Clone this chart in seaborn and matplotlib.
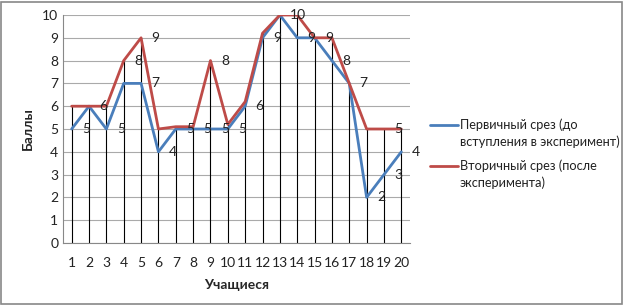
import matplotlib
matplotlib.use('Agg')
import matplotlib.pyplot as plt
import numpy as np
import pandas as pd
import seaborn as sns
from matplotlib.patches import Rectangle

# students and scores
students = list(range(1, 21))
first_cut = [5, 6, 5, 7, 7, 4, 5, 5, 5, 5, 6, 9, 10, 9, 9, 8, 7, 2, 3, 4]
second_cut = [6, 6, 6, 8, 9, 5, 5.1, 5.1, 8, 5.2, 6.2, 9.2, 10, 10, 9, 9, 7, 5, 5, 5]
series_names = ['Первичный срез (до\nвступления в эксперимент)',
                'Вторичный срез (после\nэксперимента)']
colors = ['#4A7EBB', '#BE4B48']

# which points carry a value label in the original
first_labels = [1, 2, 3, 5, 6, 7, 8, 9, 10, 11, 12, 14, 16, 17, 18, 19, 20]
second_labels = [4, 5, 9, 13, 15, 19]

df = pd.DataFrame({
    'Учащиеся': students * 2,
    'Баллы': first_cut + second_cut,
    'series': [series_names[0]] * 20 + [series_names[1]] * 20,
})

sns.set_style('white')
plt.rcParams['font.family'] = ['Lato', 'DejaVu Sans']

W, H = 627, 307
fig = plt.figure(figsize=(W / 100, H / 100), dpi=100)
ax = fig.add_axes([63 / W, 1 - 243 / H, (410 - 63) / W, (243 - 15) / H])

# drop lines from axis up to the higher of the two series
tops = np.maximum(first_cut, second_cut)
ax.vlines(students, 0, tops, color='black', linewidth=0.8, zorder=1)

sns.lineplot(data=df, x='Учащиеся', y='Баллы', hue='series',
             palette=colors, linewidth=2.0, ax=ax, legend=False, zorder=3)

for i in first_labels:
    ax.text(i + 0.6, first_cut[i - 1], f'{first_cut[i - 1]:g}', fontsize=10,
            ha='left', va='center', color='#222222', zorder=4)
for i in second_labels:
    ax.text(i + 0.6, round(second_cut[i - 1]), f'{round(second_cut[i - 1])}', fontsize=10,
            ha='left', va='center', color='#222222', zorder=4)

ax.set_xlim(0.5, 20.5)
ax.set_ylim(0, 10)
ax.set_xticks(students)
ax.set_yticks(range(0, 11))
ax.yaxis.grid(True, color='#AAAAAA', linewidth=0.8)
ax.set_axisbelow(True)
ax.tick_params(axis='both', labelsize=10, length=0, colors='#222222')
ax.tick_params(axis='x', pad=10)
for side in ['top', 'right']:
    ax.spines[side].set_visible(False)
for side in ['left', 'bottom']:
    ax.spines[side].set_color('#888888')
    ax.spines[side].set_linewidth(0.8)

ax.set_xlabel('Учащиеся', fontsize=10, fontweight='bold', labelpad=7)
ax.set_ylabel('Баллы', fontsize=10, fontweight='bold', labelpad=6)

# legend drawn by hand so the handle sits next to the first text line, as in Excel
for name, color, y0 in zip(series_names, colors, [125, 166]):
    fig.add_artist(plt.Line2D([430 / W, 458 / W], [1 - y0 / H] * 2, color=color,
                              linewidth=2.0, transform=fig.transFigure))
    for k, line in enumerate(name.split('\n')):
        fig.text(460 / W, 1 - (y0 + 17 * k) / H, line, fontsize=9.2,
                 ha='left', va='center', color='#222222')

fig.patches.append(Rectangle((0.002, 0.01), 0.99, 0.985, transform=fig.transFigure,
                             fill=False, edgecolor='#888888', linewidth=1.2))

fig.savefig('out.png', dpi=100)
